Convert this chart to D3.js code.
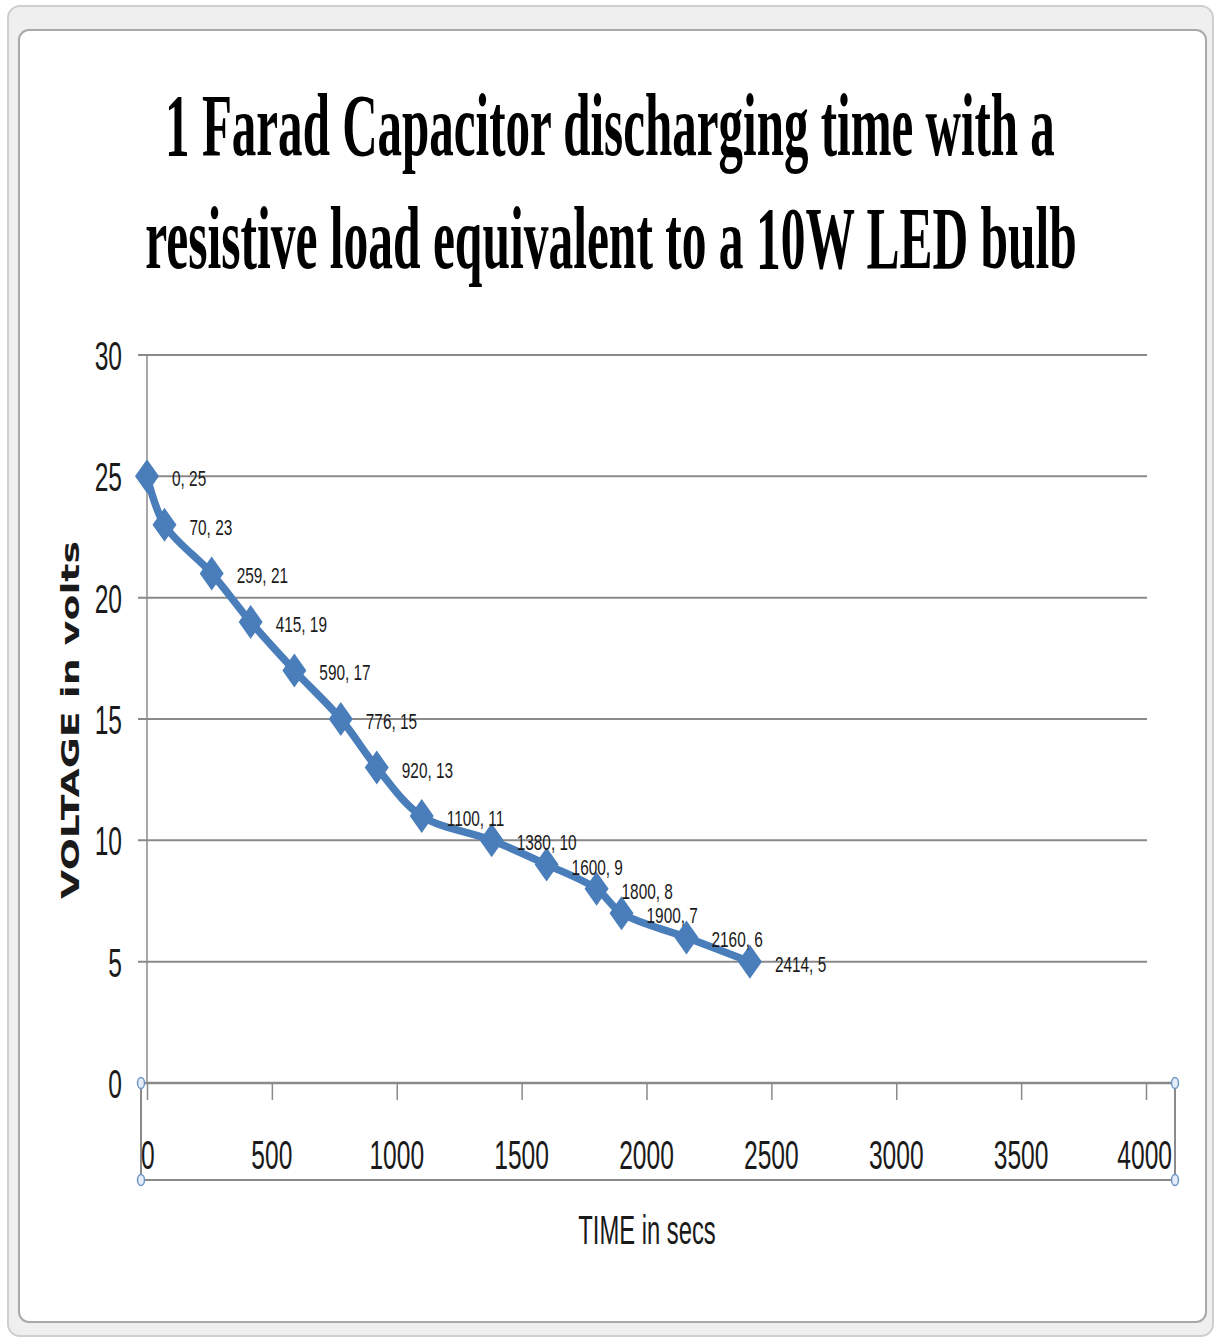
<!DOCTYPE html>
<html>
<head>
<meta charset="utf-8">
<script src="https://cdn.jsdelivr.net/npm/d3@7"></script>
<style>
  body { margin: 0; background: #ffffff; }
  svg { display: block; }
</style>
</head>
<body>
<div id="chart"></div>
<script>
// chart values
const timeSecs = [0, 70, 259, 415, 590, 776, 920, 1100, 1380, 1600, 1800, 1900, 2160, 2414];
const voltage = [25, 23, 21, 19, 17, 15, 13, 11, 10, 9, 8, 7, 6, 5];
const xTicks = [0, 500, 1000, 1500, 2000, 2500, 3000, 3500, 4000];
const yTicks = [0, 5, 10, 15, 20, 25, 30];
const titleLines = ['1 Farad Capacitor discharging time with a', 'resistive load equivalent to a 10W LED bulb'];
const xTitle = 'TIME in secs';
const yTitle = 'VOLTAGE in volts';

const width = 1215;
const height = 1338;
const blue = '#4a7ebb';
const gridColor = '#8a8a8a';
const labelFont = '"Liberation Sans", Arial, sans-serif';

const svg = d3.select('#chart')
  .append('svg')
  .attr('width', width)
  .attr('height', height);

// window frame around the chart (outer grey border, then the white panel)
svg.append('rect')
  .attr('x', 8).attr('y', 6)
  .attr('width', 1205).attr('height', 1330)
  .attr('rx', 12)
  .attr('fill', '#efefef')
  .attr('stroke', '#cfcfcf')
  .attr('stroke-width', 2);

svg.append('rect')
  .attr('x', 19).attr('y', 30)
  .attr('width', 1187).attr('height', 1292)
  .attr('rx', 10)
  .attr('fill', '#ffffff')
  .attr('stroke', '#a9a9a9')
  .attr('stroke-width', 2);

// scales
const x = d3.scaleLinear().domain([0, 4000]).range([147, 1146]);
const y = d3.scaleLinear().domain([0, 30]).range([1083, 355]);

// horizontal gridlines (they run a little past the axis to make the tick)
svg.append('g')
  .selectAll('line')
  .data(yTicks.filter(d => d > 0))
  .join('line')
  .attr('x1', x(0) - 9)
  .attr('x2', x(4000) + 1)
  .attr('y1', d => y(d))
  .attr('y2', d => y(d))
  .attr('stroke', gridColor)
  .attr('stroke-width', 2);

// y axis line
svg.append('line')
  .attr('x1', x(0)).attr('x2', x(0))
  .attr('y1', y(30)).attr('y2', y(0))
  .attr('stroke', gridColor)
  .attr('stroke-width', 1.5);

// x axis built from d3.axisBottom, then restyled like the excel axis
const xAxis = svg.append('g')
  .attr('transform', `translate(0,${y(0)})`)
  .call(d3.axisBottom(x).tickValues(xTicks).tickSize(17).tickFormat(''));

xAxis.select('.domain').remove();
xAxis.selectAll('.tick line')
  .attr('stroke', gridColor)
  .attr('stroke-width', 1.5);

// x axis baseline and the selection box around the axis
svg.append('line')
  .attr('x1', x(0) - 6).attr('x2', 1175)
  .attr('y1', y(0)).attr('y2', y(0))
  .attr('stroke', gridColor)
  .attr('stroke-width', 2.5);

svg.append('path')
  .attr('d', `M${x(0) - 6},${y(0)} V1180 H1175 V${y(0)}`)
  .attr('fill', 'none')
  .attr('stroke', gridColor)
  .attr('stroke-width', 2);

const handles = [[x(0) - 6, y(0)], [1175, y(0)], [x(0) - 6, 1180], [1175, 1180]];
svg.append('g')
  .selectAll('ellipse')
  .data(handles)
  .join('ellipse')
  .attr('cx', d => d[0])
  .attr('cy', d => d[1])
  .attr('rx', 3.5)
  .attr('ry', 5.5)
  .attr('fill', '#e4edf8')
  .attr('stroke', '#6d96c5')
  .attr('stroke-width', 1.5);

// narrow text: draw normal text, squeeze it horizontally
function narrowText(g, txt, tx, ty, size, sx, anchor) {
  return g.append('text')
    .attr('transform', `translate(${tx},${ty}) scale(${sx},1)`)
    .attr('text-anchor', anchor)
    .attr('font-family', labelFont)
    .attr('font-size', size)
    .attr('fill', '#1a1a1a')
    .text(txt);
}

// squeeze an already drawn text so it spans the wanted width
function fitWidth(sel, tx, ty, want, rot) {
  const natural = sel.node().getComputedTextLength();
  const s = want / natural;
  if (rot) {
    sel.attr('transform', `translate(${tx},${ty}) rotate(-90) scale(${s},1)`);
  } else {
    sel.attr('transform', `translate(${tx},${ty}) scale(${s},1)`);
  }
}

// tick labels
const tickLabels = svg.append('g');
xTicks.forEach(function (t) {
  const anchor = t === 0 ? 'start' : (t === 4000 ? 'end' : 'middle');
  const tx = t === 0 ? x(t) - 6 : (t === 4000 ? x(t) + 26 : x(t));
  narrowText(tickLabels, t, tx, 1169, 41, 0.6, anchor);
});
yTicks.forEach(function (t) {
  narrowText(tickLabels, t, 122, y(t) + 15, 41, 0.6, 'end');
});

// axis titles
narrowText(svg, xTitle, 647, 1244, 41, 0.58, 'middle');

const yTitleText = svg.append('text')
  .attr('text-anchor', 'middle')
  .attr('font-family', '"DejaVu Sans", Verdana, sans-serif')
  .attr('font-weight', 'bold')
  .attr('font-size', 24)
  .attr('fill', '#1a1a1a')
  .text(yTitle);
fitWidth(yTitleText, 79, 720, 358, true);

// chart title, two lines of condensed bold serif
const titleWidths = [890, 932];
const titleBaselines = [155, 268];
titleLines.forEach(function (line, i) {
  const t = svg.append('text')
    .attr('text-anchor', 'middle')
    .attr('font-family', '"Liberation Serif", "Times New Roman", serif')
    .attr('font-weight', 'bold')
    .attr('font-size', 88)
    .attr('fill', '#000000')
    .text(line);
  fitWidth(t, 610 + i, titleBaselines[i], titleWidths[i], false);
});

// the series
const points = timeSecs.map((t, i) => ({ t: t, v: voltage[i] }));

const line = d3.line()
  .x(d => x(d.t))
  .y(d => y(d.v))
  .curve(d3.curveCatmullRom.alpha(0.5));

svg.append('path')
  .datum(points)
  .attr('d', line)
  .attr('fill', 'none')
  .attr('stroke', blue)
  .attr('stroke-width', 7.5)
  .attr('stroke-linejoin', 'round');

// tall diamond markers
svg.append('g')
  .selectAll('path')
  .data(points)
  .join('path')
  .attr('transform', d => `translate(${x(d.t)},${y(d.v)})`)
  .attr('d', 'M0,-17 L12,0 L0,17 L-12,0 Z')
  .attr('fill', blue);

// data labels "x, y"
const dataLabels = svg.append('g');
points.forEach(function (d) {
  narrowText(dataLabels, `${d.t}, ${d.v}`, x(d.t) + 25, y(d.v) + 10, 22, 0.7, 'start');
});
</script>
</body>
</html>
